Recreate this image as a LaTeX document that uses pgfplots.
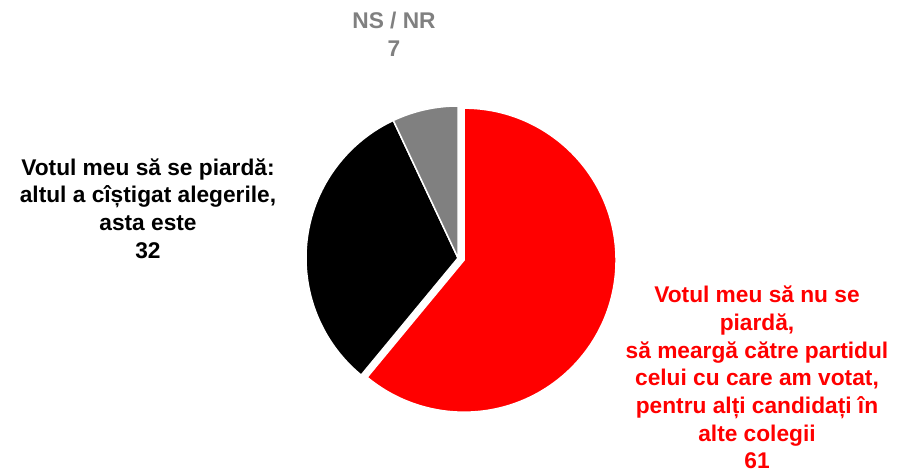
\documentclass[border=0pt]{standalone}
\usepackage{fontspec}
\setmainfont{Liberation Sans}
\usepackage{pgfplots}
\usepackage{pgfplotstable}
\pgfplotsset{compat=1.18}
\definecolor{nsgrey}{HTML}{808080}
\pgfplotstableread{
label value
red 61
black 32
grey 7
}\piedata
\pgfplotstablegetelem{0}{value}\of\piedata \let\va\pgfplotsretval
\pgfplotstablegetelem{1}{value}\of\piedata \let\vb\pgfplotsretval
\pgfplotstablegetelem{2}{value}\of\piedata \let\vc\pgfplotsretval
\pgfmathsetmacro\aA{90-3.6*\va}
\pgfmathsetmacro\aB{\aA-3.6*\vb}
\pgfmathsetmacro\aC{\aB-3.6*\vc}
\pgfmathsetmacro\mid{90-1.8*\va}
\pgfmathsetmacro\cx{458}
\pgfmathsetmacro\cy{217}
\pgfmathsetmacro\rx{\cx+6.4*cos(\mid)}
\pgfmathsetmacro\ry{\cy+6.4*sin(\mid)}
\begin{document}
\begin{tikzpicture}
\begin{axis}[x=1bp,y=1bp,xmin=0,xmax=897,ymin=0,ymax=475,hide axis,scale only axis,clip=false]
\addplot[draw=none] coordinates {(0,0) (897,475)};
\fill[red,draw=white,line width=1.5bp] (axis cs:\rx,\ry) -- ++(90:152bp) arc[start angle=90,end angle=\aA,radius=152bp] -- cycle;
\fill[black,draw=white,line width=1.5bp] (axis cs:\cx,\cy) -- ++(\aA:152bp) arc[start angle=\aA,end angle=\aB,radius=152bp] -- cycle;
\fill[nsgrey,draw=white,line width=1.5bp] (axis cs:\cx,\cy) -- ++(\aB:152bp) arc[start angle=\aB,end angle=\aC,radius=152bp] -- cycle;
\node[align=center,text=black,font=\fontsize{22.8}{27.8}\selectfont\bfseries] at (axis cs:148,266.5) {Votul meu să se piardă:\\altul a cîștigat alegerile,\\asta este\\\vb};
\node[align=center,text=red,font=\fontsize{22.8}{27.8}\selectfont\bfseries] at (axis cs:757,97.5) {Votul meu să nu se\\piardă,\\să meargă către partidul\\celui cu care am votat,\\pentru alți candidați în\\alte colegii\\\va};
\node[align=center,text=nsgrey,font=\fontsize{22.8}{27.8}\selectfont\bfseries] at (axis cs:394,440.5) {NS / NR\\\vc};
\end{axis}
\end{tikzpicture}
\end{document}
